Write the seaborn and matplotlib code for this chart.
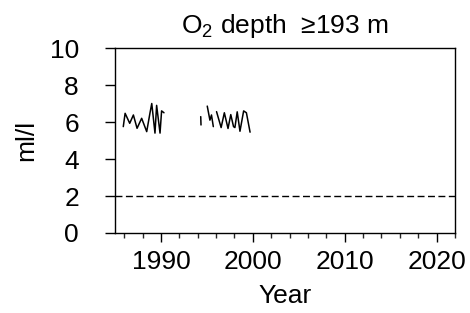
import numpy as np
import pandas as pd
import matplotlib
matplotlib.use("Agg")
import matplotlib.pyplot as plt
from matplotlib.ticker import MultipleLocator
import seaborn as sns

# oxygen at depth >= 193 m (gaps = separate pieces)
years_a = [1985.9, 1986.1, 1986.6, 1987.0, 1987.4, 1987.9, 1988.45, 1988.8,
           1989.0, 1989.35, 1989.53, 1989.9, 1990.07, 1990.33]
o2_a = [5.75, 6.47, 5.93, 6.38, 5.66, 6.2, 5.48, 6.47, 7.0, 5.4, 6.9, 5.4, 6.6, 6.5]

years_b = [1994.33, 1994.36]
o2_b = [6.29, 5.84]

years_c = [1995.04, 1995.33, 1995.5, 1995.7]
o2_c = [6.86, 6.1, 6.38, 5.75]

years_d = [1996.05, 1996.55, 1996.9, 1997.3, 1997.6, 1997.9, 1998.05, 1998.3,
           1998.6, 1999.0, 1999.3, 1999.7]
o2_d = [6.56, 5.7, 6.5, 5.65, 6.4, 5.75, 5.7, 6.55, 5.5, 6.6, 6.5, 5.45]

threshold = 2

rows = []
for seg, (yy, vv) in enumerate([(years_a, o2_a), (years_b, o2_b),
                                 (years_c, o2_c), (years_d, o2_d)]):
    for y, v in zip(yy, vv):
        rows.append({"Year": y, "O2": v, "seg": seg})
df = pd.DataFrame(rows)

sns.set_theme(style="ticks")
plt.rcParams['font.family'] = ['Liberation Sans', 'DejaVu Sans']
plt.rcParams['mathtext.fontset'] = 'custom'
plt.rcParams['mathtext.rm'] = 'Liberation Sans'

fig = plt.figure(figsize=(4.7, 3.13), dpi=100)
ax = fig.add_axes([0.2447, 0.2556, 0.7233, 0.591])

sns.lineplot(data=df, x="Year", y="O2", units="seg", estimator=None,
             color="black", linewidth=1.1, ax=ax, sort=False)
ax.axhline(threshold, color="black", linewidth=1.0, linestyle=(0, (5, 2.5)))

ax.set_xlim(1985, 2022)
ax.set_ylim(0, 10)
ax.xaxis.set_major_locator(MultipleLocator(10))
ax.xaxis.set_minor_locator(MultipleLocator(2))
ax.yaxis.set_major_locator(MultipleLocator(2))

for s in ax.spines.values():
    s.set_linewidth(1.0)
    s.set_color("black")

fs = 19
ax.tick_params(axis="x", which="major", length=6.5, width=1.0, pad=6,
               labelsize=fs, colors="black", direction="out")
ax.tick_params(axis="x", which="minor", length=3.5, width=1.0, direction="out")
ax.tick_params(axis="y", which="major", length=7, width=1.0, pad=19,
               labelsize=fs, colors="black", direction="out")

ax.set_xlabel("Year", fontsize=fs, color="black", labelpad=7)
ax.set_ylabel("ml/l", fontsize=fs, color="black", labelpad=8)
ax.set_title("O$_2$ depth  \u2265193 m", fontsize=fs, color="black", pad=11)

fig.savefig("out.png", dpi=100)
